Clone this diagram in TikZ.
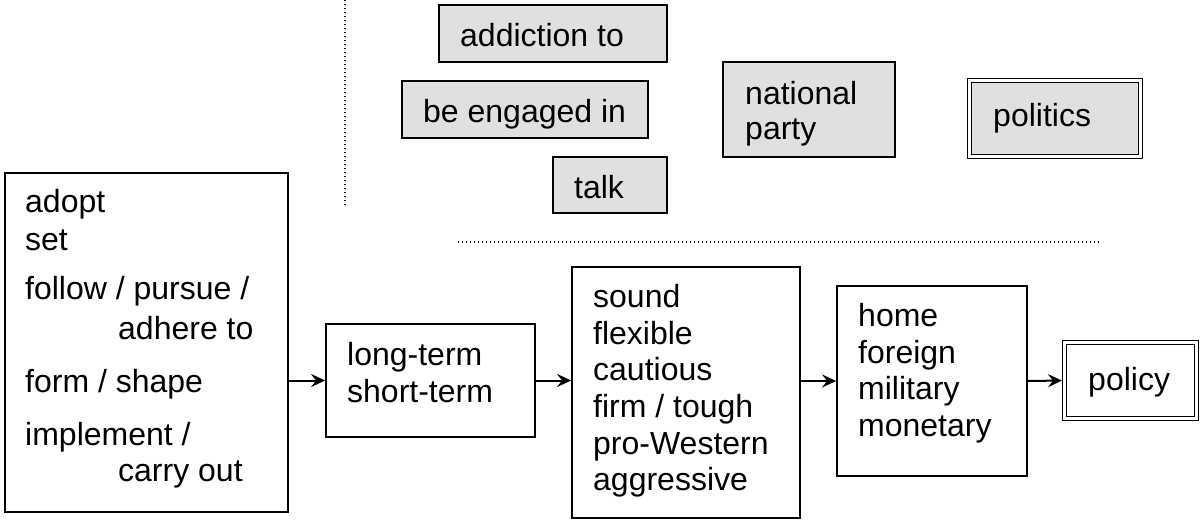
\documentclass[tikz,border=0pt]{standalone}
\usepackage{fontspec}
\setmainfont{Liberation Sans}
\usetikzlibrary{arrows.meta}
\definecolor{boxgray}{HTML}{E0E0E0}
\begin{document}
\begin{tikzpicture}[x=1pt,y=-1pt,
  frame/.style={draw=black, line width=1.9pt, inner sep=0pt, outer sep=0pt, anchor=north west},
  shaded/.style={frame, fill=boxgray},
  twin/.style={frame, line width=1.6pt, double=white, double distance=2.2pt},
  words/.style={anchor=north west, inner sep=0pt, align=left,
    font=\fontsize{32}{36.7}\selectfont},
  link/.style={line width=2pt, shorten >=0.9pt, -{Stealth[length=14pt,width=13pt,inset=5pt]}},
  dots/.style={line width=1.4pt, dash pattern=on 1.4pt off 2.6pt}]
\useasboundingbox (0,0) rectangle (1200,520);

% upper group: collocations of "politics"
\node[shaded, minimum width=228pt, minimum height=57pt] (add) at (439,5) {};
\node[shaded, minimum width=246pt, minimum height=57pt] (eng) at (402,81) {};
\node[shaded, minimum width=114pt, minimum height=56pt] (talk) at (553,157) {};
\node[shaded, minimum width=172pt, minimum height=95pt] (nat) at (723,62) {};
\node[twin, fill=boxgray, minimum width=171pt, minimum height=76pt] (pol) at (969.5,80.5) {};

\node[words] (addT) at (460,23.5) {addiction to};
\node[words] (engT) at (423,99) {be engaged in};
\node[words] (talkT) at (574,175) {talk};
\node[words, font=\fontsize{32}{35}\selectfont] (natT) at (745,81) {national\\party};
\node[words] (polT) at (993,103) {politics};

% separators
\coordinate (vTop) at (345,0);
\coordinate (vBot) at (345,207);
\coordinate (hL) at (458,242);
\coordinate (hR) at (1100,242);
\draw[dots] (vTop) -- (vBot);
\draw[dots] (hL) -- (hR);

% lower chain: verb -> term -> quality -> domain -> policy
\node[frame, minimum width=283pt, minimum height=339pt] (b1) at (5,173) {};
\node[frame, minimum width=209pt, minimum height=113pt] (b2) at (326,324) {};
\node[frame, minimum width=228pt, minimum height=251pt] (b3) at (572,267) {};
\node[frame, minimum width=190pt, minimum height=190pt] (b4) at (837,286) {};
\node[twin, minimum width=132pt, minimum height=76pt] (pc) at (1064.5,342.5) {};

\node[words] (b1T) at (25,189) {adopt\\[1pt]
  set\\[12.6pt]
  follow / pursue /\\[3.3pt]
  \hspace*{93pt}adhere to\\[16.3pt]
  form / shape\\[16.3pt]
  implement /\\[-0.7pt]
  \hspace*{93pt}carry out};
\node[words] (b2T) at (347,342) {long-term\\short-term};
\node[words] (b3T) at (593,284) {sound\\flexible\\cautious\\firm / tough\\pro-Western\\aggressive};
\node[words] (b4T) at (858,303) {home\\foreign\\military\\monetary};
\node[words] (pcT) at (1088,367) {policy};

\draw[link] (b2.west -| b1.east) -- (b2.west);
\draw[link] (b2.east) -- (b2.east -| b3.west);
\draw[link] (b4.west -| b3.east) -- (b4.west);
\draw[link, shorten >=2.5pt] (b4.east) -- (pc.west);
\end{tikzpicture}
\end{document}
